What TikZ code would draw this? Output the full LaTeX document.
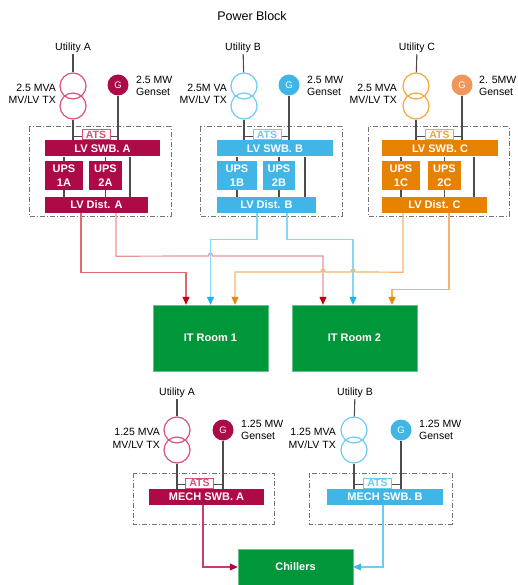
\documentclass[tikz,border=0pt]{standalone}
\usepackage{fontspec}
\setmainfont{Liberation Sans}
\usetikzlibrary{arrows.meta,calc,positioning}
\definecolor{colA}{HTML}{AD0A48}
\definecolor{lnA}{HTML}{D9507A}
\definecolor{colB}{HTML}{41B6E6}
\definecolor{lnB}{HTML}{6CCBF0}
\definecolor{colC}{HTML}{E68200}
\definecolor{lnC}{HTML}{F2A63C}
\definecolor{genC}{HTML}{F0965A}
\definecolor{itgreen}{HTML}{00963A}
\definecolor{fdA}{HTML}{E06A6A}
\definecolor{fdAA}{HTML}{E99494}
\definecolor{tipA}{HTML}{C3000E}
\definecolor{fdB}{HTML}{86D6F5}
\definecolor{tipB}{HTML}{1EB2EE}
\definecolor{fdC}{HTML}{F4B26C}
\definecolor{tipC}{HTML}{E88410}
\definecolor{fdM}{HTML}{CF3A6C}
\begin{document}
\begin{tikzpicture}[x=1pt,y=-1pt,
  lbl/.style={font=\fontsize{10.5}{12.5}\selectfont,inner sep=1pt},
  bar/.style={rectangle,inner sep=0pt,text=white,font=\fontsize{11}{13.5}\selectfont\bfseries,align=center},
  tx/.style={circle,draw,line width=1.2pt,minimum size=26pt,inner sep=0pt},
  gen/.style={circle,minimum size=21pt,inner sep=0pt,text=white,font=\fontsize{9.5}{9.5}\selectfont},
  ats/.style={rectangle,draw,line width=0.8pt,fill=white,minimum width=28pt,minimum height=10pt,inner sep=0pt,font=\fontsize{10.5}{10.5}\selectfont\bfseries},
  grp/.style={draw=black!55,line width=1pt,dash pattern=on 5pt off 2pt on 1pt off 2pt},
  wire/.style={draw=black!70,line width=1.1pt},
  feed/.style 2 args={line width=1.2pt,draw=#1,-{Triangle[length=8pt,width=7pt,color=#2]}},
  room/.style={rectangle,fill=itgreen,draw=itgreen!60!white,inner sep=0pt,text=white,font=\fontsize{11}{11}\selectfont\bfseries}]
\useasboundingbox (0,0) rectangle (518,585);

\node[lbl,font=\fontsize{12.5}{12.5}\selectfont] (title) at (252,16) {Power Block};

\node[lbl] (uA) at (73,48) {Utility A};
\node[tx,draw=lnA] (txA1) at (73,86) {};
\node[tx,draw=lnA] (txA2) at (73,106) {};
\node[gen,fill=colA] (gA) at (118,85) {G};
\node[lbl,anchor=east,align=right] (tA) at (57,94) {2.5 MVA\\MV/LV TX};
\node[lbl,anchor=west,align=left] (gtA) at (135,86) {2.5 MW\\Genset};
\draw[grp] (29,127) rectangle (171,216);
\node[bar,fill=colA,minimum width=115pt,minimum height=16pt] (swbA) at (102.5,148.5) {LV SWB. A};
\node[bar,fill=colA,minimum width=38pt,minimum height=29pt] (upsA1) at (64,175.5) {UPS\\1A};
\node[bar,fill=colA,minimum width=33pt,minimum height=29pt] (upsA2) at (105.5,175.5) {UPS\\2A};
\node[bar,fill=colA,minimum width=103pt,minimum height=16pt] (distA) at (96.5,205) {LV Dist. A};
\coordinate (byA) at (130,0);
\draw[wire] (uA) -- (txA1);
\draw[wire] (txA2) -- (txA2 |- swbA.north);
\draw[wire] (gA) -- (gA |- swbA.north);
\draw[wire] ($(txA2 |- swbA.north)+(0,-4)$) -- ($(gA |- swbA.north)+(0,-4)$);
\node[ats,draw=lnA,text=lnA] (atsA) at (96,134.5) {ATS};
\draw[wire] (upsA1) -- (upsA1 |- swbA.south) (upsA1) -- (upsA1 |- distA.north);
\draw[wire] (upsA2) -- (upsA2 |- swbA.south) (upsA2) -- (upsA2 |- distA.north);
\draw[wire] (byA |- swbA.south) -- (byA |- distA.north);

\node[lbl] (uB) at (243,48) {Utility B};
\node[tx,draw=lnB] (txB1) at (244,86) {};
\node[tx,draw=lnB] (txB2) at (244,106) {};
\node[gen,fill=colB] (gB) at (289,85) {G};
\node[lbl,anchor=east,align=right] (tB) at (228,94) {2.5M VA\\MV/LV TX};
\node[lbl,anchor=west,align=left] (gtB) at (306,86) {2.5 MW\\Genset};
\draw[grp] (200,127) rectangle (342,216);
\node[bar,fill=colB,minimum width=116pt,minimum height=16pt] (swbB) at (275,148.5) {LV SWB. B};
\node[bar,fill=colB,minimum width=40pt,minimum height=29pt] (upsB1) at (237,175.5) {UPS\\1B};
\node[bar,fill=colB,minimum width=32pt,minimum height=29pt] (upsB2) at (279,175.5) {UPS\\2B};
\node[bar,fill=colB,minimum width=99pt,minimum height=16pt] (distB) at (266.5,205) {LV Dist. B};
\coordinate (byB) at (305,0);
\draw[wire] (uB) -- (txB1);
\draw[wire] (txB2) -- (txB2 |- swbB.north);
\draw[wire] (gB) -- (gB |- swbB.north);
\draw[wire] ($(txB2 |- swbB.north)+(0,-4)$) -- ($(gB |- swbB.north)+(0,-4)$);
\node[ats,draw=lnB,text=lnB] (atsB) at (267,134.5) {ATS};
\draw[wire] (upsB1) -- (upsB1 |- swbB.south) (upsB1) -- (upsB1 |- distB.north);
\draw[wire] (upsB2) -- (upsB2 |- swbB.south) (upsB2) -- (upsB2 |- distB.north);
\draw[wire] (byB |- swbB.south) -- (byB |- distB.north);

\node[lbl] (uC) at (417,48) {Utility C};
\node[tx,draw=lnC] (txC1) at (416,86) {};
\node[tx,draw=lnC] (txC2) at (416,106) {};
\node[gen,fill=genC] (gC) at (462,85) {G};
\node[lbl,anchor=east,align=right] (tC) at (398,94) {2.5 MVA\\MV/LV TX};
\node[lbl,anchor=west,align=left] (gtC) at (478,86) {2. 5MW\\Genset};
\draw[grp] (368,127) rectangle (509,216);
\node[bar,fill=colC,minimum width=116pt,minimum height=16pt] (swbC) at (440,148.5) {LV SWB. C};
\node[bar,fill=colC,minimum width=38pt,minimum height=29pt] (upsC1) at (401,175.5) {UPS\\1C};
\node[bar,fill=colC,minimum width=33pt,minimum height=29pt] (upsC2) at (444.5,175.5) {UPS\\2C};
\node[bar,fill=colC,minimum width=105pt,minimum height=16pt] (distC) at (434.5,205) {LV Dist. C};
\coordinate (byC) at (474,0);
\draw[wire] (uC) -- (txC1);
\draw[wire] (txC2) -- (txC2 |- swbC.north);
\draw[wire] (gC) -- (gC |- swbC.north);
\draw[wire] ($(txC2 |- swbC.north)+(0,-4)$) -- ($(gC |- swbC.north)+(0,-4)$);
\node[ats,draw=lnC,text=lnC] (atsC) at (439.5,134.5) {ATS};
\draw[wire] (upsC1) -- (upsC1 |- swbC.south) (upsC1) -- (upsC1 |- distC.north);
\draw[wire] (upsC2) -- (upsC2 |- swbC.south) (upsC2) -- (upsC2 |- distC.north);
\draw[wire] (byC |- swbC.south) -- (byC |- distC.north);

\node[room,minimum width=115pt,minimum height=66pt] (it1) at (210.5,338) {IT Room 1};
\node[room,minimum width=125pt,minimum height=66pt] (it2) at (354.5,338) {IT Room 2};

\draw[feed={fdA}{tipA}] ([xshift=-15.5pt]distA.south) -- ++(0,59) -| ([xshift=-24.5pt]it1.north);
\draw[feed={fdAA}{tipA}] ([xshift=19.5pt]distA.south) -- ++(0,43) -- (208.5,256) .. controls (208.5,252) and (212.5,252) .. (212.5,256) -| ([xshift=-31.5pt]it2.north);
\draw[feed={fdB}{tipB}] ([xshift=-9.5pt]distB.south) -- ++(0,26) -| (it1.north);
\draw[feed={fdB}{tipB}] ([xshift=20.5pt]distB.south) -- ++(0,26) -| ([xshift=-1.5pt]it2.north);
\draw[feed={fdC}{tipC}] ([xshift=-31.5pt]distC.south) -- ++(0,59) -- (355,272) .. controls (355,268) and (351,268) .. (351,272) -- (325,272) .. controls (325,268) and (321,268) .. (321,272) -| ([xshift=24.5pt]it1.north);
\draw[feed={fdC}{tipC}] ([xshift=14.5pt]distC.south) -- ++(0,76) -| ([xshift=37.5pt]it2.north);

\node[lbl] (umA) at (177,393) {Utility A};
\node[tx,draw=lnA] (mtxA1) at (177,430) {};
\node[tx,draw=lnA] (mtxA2) at (177,450) {};
\node[gen,fill=colA] (mgA) at (223,430) {G};
\node[lbl,anchor=east,align=right] (mtA) at (161,438.5) {1.25 MVA\\MV/LV TX};
\node[lbl,anchor=west,align=left] (mgtA) at (240,430) {1.25 MW\\Genset};
\draw[grp] (133,473) rectangle (274,524);
\node[bar,fill=colA,minimum width=115pt,minimum height=16pt] (mswbA) at (206.5,497) {MECH SWB. A};
\draw[wire] (umA) -- (mtxA1);
\draw[wire] (mtxA2) -- (mtxA2 |- mswbA.north);
\draw[wire] (mgA) -- (mgA |- mswbA.north);
\draw[wire] ($(mtxA2 |- mswbA.north)+(0,-4)$) -- ($(mgA |- mswbA.north)+(0,-4)$);
\node[ats,draw=lnA,text=lnA] (matsA) at (199.5,483) {ATS};

\node[lbl] (umB) at (355,393) {Utility B};
\node[tx,draw=lnB] (mtxB1) at (354,430) {};
\node[tx,draw=lnB] (mtxB2) at (354,450) {};
\node[gen,fill=colB] (mgB) at (401,430) {G};
\node[lbl,anchor=east,align=right] (mtB) at (337,438.5) {1.25 MVA\\MV/LV TX};
\node[lbl,anchor=west,align=left] (mgtB) at (418,430) {1.25 MW\\Genset};
\draw[grp] (309,473) rectangle (452,524);
\node[bar,fill=colB,minimum width=116pt,minimum height=16pt] (mswbB) at (385,497) {MECH SWB. B};
\draw[wire] (umB) -- (mtxB1);
\draw[wire] (mtxB2) -- (mtxB2 |- mswbB.north);
\draw[wire] (mgB) -- (mgB |- mswbB.north);
\draw[wire] ($(mtxB2 |- mswbB.north)+(0,-4)$) -- ($(mgB |- mswbB.north)+(0,-4)$);
\node[ats,draw=lnB,text=lnB] (matsB) at (377.5,483) {ATS};

\node[room,minimum width=115pt,minimum height=36pt] (chill) at (295.5,567) {Chillers};
\draw[feed={fdM}{colA}] ([xshift=-3.5pt]mswbA.south) |- (chill.west);
\draw[feed={lnB}{colB}] ([xshift=-2pt]mswbB.south) |- (chill.east);
\end{tikzpicture}
\end{document}
